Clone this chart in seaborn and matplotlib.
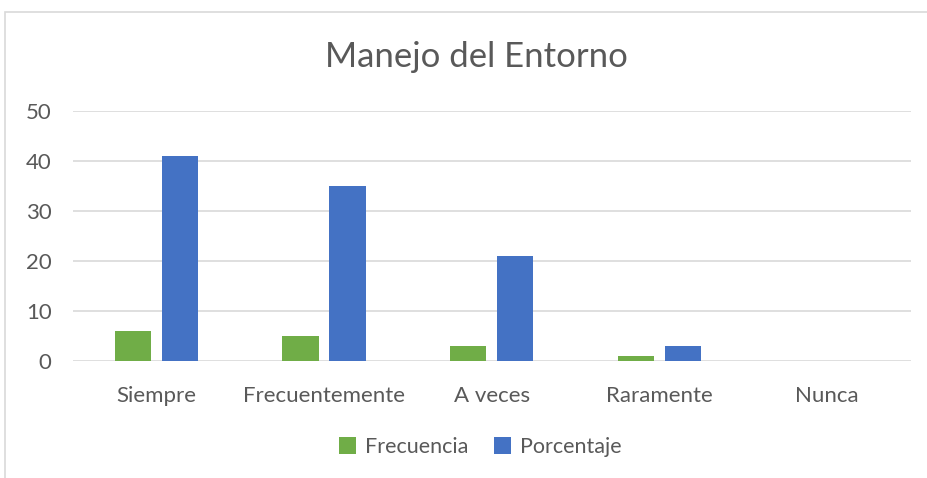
import matplotlib
matplotlib.use("Agg")
import matplotlib.pyplot as plt
import seaborn as sns
import pandas as pd
from matplotlib.patches import Rectangle

categorias = ["Siempre", "Frecuentemente", "A veces", "Raramente", "Nunca"]
frecuencia = [6, 5, 3, 1, 0]
porcentaje = [41, 35, 21, 3, 0]
series = ["Frecuencia", "Porcentaje"]
y_ticks = [0, 10, 20, 30, 40, 50]

df = pd.DataFrame({
    "Categoria": categorias * 2,
    "Serie": [series[0]] * len(categorias) + [series[1]] * len(categorias),
    "Valor": frecuencia + porcentaje,
})

sns.set_style("white")
plt.rcParams["font.family"] = ["Lato", "DejaVu Sans"]
gris = "#595959"

fig = plt.figure(figsize=(9.27, 4.78), dpi=100)
ax = fig.add_axes([72.5 / 927, 1 - 361 / 478, 838.5 / 927, 250 / 478])

sns.barplot(data=df, x="Categoria", y="Valor", hue="Serie", order=categorias,
            palette={"Frecuencia": "#70ad47", "Porcentaje": "#4472c4"},
            saturation=1, linewidth=0, width=0.56, gap=0.23, ax=ax,
            legend=True, zorder=3)

ax.set_ylim(0, 50)
ax.set_yticks(y_ticks)
ax.set_xlim(-0.5, len(categorias) - 0.5)
ax.grid(axis="y", color="#d9d9d9", linewidth=1.2, zorder=0)
ax.grid(axis="x", visible=False)
for s in ax.spines.values():
    s.set_visible(False)
ax.tick_params(axis="both", length=0, labelsize=16, labelcolor=gris)
ax.tick_params(axis="x", pad=18)
ax.tick_params(axis="y", pad=15)
ax.set_xlabel("")
ax.set_ylabel("")

handles, labels = ax.get_legend_handles_labels()
ax.legend(handles, labels, loc="center", bbox_to_anchor=(480 / 927, 1 - 447 / 478),
          bbox_transform=fig.transFigure, ncol=2, frameon=False, fontsize=15.5,
          labelcolor=gris, handlelength=0.8, handleheight=0.8, handletextpad=0.4,
          columnspacing=1.2)

fig.text(476 / 927, 1 - 57 / 478, "Manejo del Entorno", ha="center", va="center",
         fontsize=25, color=gris)

fig.patches.append(Rectangle((5 / 927, -0.1), 1.2, 1 - 12.5 / 478 + 0.1,
                             transform=fig.transFigure, fill=False,
                             edgecolor="#d9d9d9", linewidth=1.2))

fig.savefig("out.png", dpi=100)
